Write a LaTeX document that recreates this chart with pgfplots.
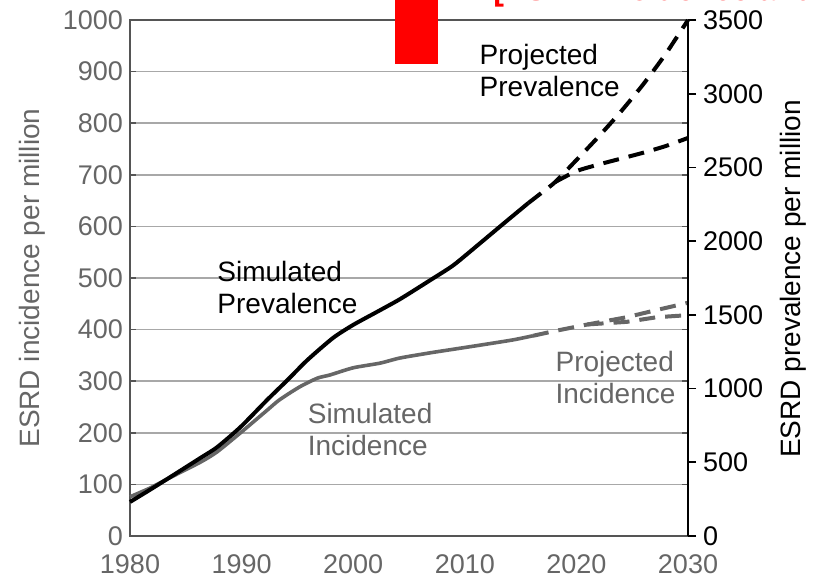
\documentclass[border=0pt]{standalone}
\usepackage{pgfplots}
\pgfplotsset{compat=1.18}
\usepackage{fontspec}
\setmainfont{Liberation Sans}
\definecolor{incgray}{HTML}{666666}
\definecolor{gridgray}{HTML}{A8A8A8}
\definecolor{axisgray}{HTML}{555555}
\begin{document}
\begin{tikzpicture}
\pgfplotsset{
  esrdbase/.style={
    scale only axis, width=279pt, height=258pt,
    xmin=1980, xmax=2030, clip=false,
    /pgf/number format/1000 sep={},
    /pgf/number format/assume math mode=true,
    ticklabel style={font=\fontsize{13.5}{16}\selectfont},
  },
}
% Incidence (left axis)
\begin{axis}[esrdbase,
  ymin=0, ymax=1000,
  axis line style={axisgray, line width=1pt},
  xtick={1980,1990,...,2030}, ytick={0,100,...,1000},
  x tick label style={incgray, yshift=-6pt},
  y tick label style={incgray},
  xtick style={draw=none},
  ytick style={axisgray, line width=0.8pt},
  tick align=inside, major tick length=3pt,
  ymajorgrids, grid style={gridgray, line width=0.8pt},
]
\addplot[incgray, line width=1.8pt, smooth, tension=0.4] coordinates {
  (1980,76) (1981.8,93) (1983.3,110) (1986.3,143) (1987.8,163) (1989.9,200)
  (1992.3,244) (1993.4,264) (1995.2,289) (1996.8,306) (1997.9,312)
  (2000,326) (2002.4,335) (2004.2,345) (2006.9,355) (2009,362)
  (2011.4,370) (2014.3,380) (2016.1,388)
};
\addplot[incgray, line width=2pt, dash pattern=on 8pt off 5pt] coordinates {
  (2016.1,388) (2018,397) (2021,410) (2024.5,424) (2027.2,438) (2030,452)
};
\addplot[incgray, line width=2pt, dash pattern=on 8pt off 5pt] coordinates {
  (2021,410) (2024.5,415) (2027.2,424) (2030,428)
};
\end{axis}
% Prevalence (right axis)
\begin{axis}[esrdbase,
  ymin=0, ymax=3500,
  axis y line*=right, axis x line=none,
  axis line style={black, line width=1pt},
  ytick={0,500,...,3500},
  y tick label style={black},
  ytick style={black, line width=0.8pt},
  tick align=outside, major tick length=4pt,
]
\addplot[black, line width=2pt, smooth, tension=0.4] coordinates {
  (1980,231) (1981.5,300) (1983.3,385) (1986.3,529) (1987.8,602) (1989.9,739)
  (1992.3,924) (1994.1,1057) (1995.9,1194) (1998.2,1344) (2000,1432)
  (2002.1,1519) (2004.2,1607) (2007,1740) (2009,1838) (2011.4,1988)
  (2013.5,2121) (2015.7,2259)
};
\addplot[black, line width=2pt, dash pattern=on 8pt off 5pt, smooth, tension=0.4] coordinates {
  (2015.7,2259) (2017,2335) (2018.1,2401) (2020,2550) (2022,2710)
  (2024,2880) (2026,3065) (2028,3270) (2030,3500)
};
\addplot[black, line width=2pt, dash pattern=on 8pt off 5pt, smooth, tension=0.4] coordinates {
  (2018.1,2401) (2020,2475) (2022,2520) (2024,2560) (2026,2600)
  (2028,2645) (2030,2700)
};
\begin{scope}[every node/.style={font=\fontsize{14}{16}\selectfont, align=left, anchor=base west, inner sep=0pt, yshift=-16pt}]
  \node[black] at (axis cs:2011.3,3195) {Projected\\Prevalence};
  \node[black] at (axis cs:1987.8,1729) {Simulated\\Prevalence};
  \node[incgray] at (axis cs:1995.9,760) {Simulated\\Incidence};
  \node[incgray] at (axis cs:2018.1,1113) {Projected\\Incidence};
\end{scope}
\end{axis}
% axis titles
\node[rotate=90, incgray, font=\fontsize{14}{16}\selectfont] at (-49pt,129pt) {ESRD incidence per million};
\node[rotate=90, black, font=\fontsize{14}{16}\selectfont] at (331.5pt,128.5pt) {ESRD prevalence per million};
% red overlay at the top
\fill[red] (132.5pt,236pt) rectangle (154pt,270pt);
\node[red, font=\bfseries\fontsize{16}{18}\selectfont, anchor=base west, inner sep=0pt] at (181.5pt,267.8pt) {[ESRD incidence and prevalence, 1980–2030]};
\pgfresetboundingbox
\path[use as bounding box] (-65pt,-22pt) rectangle (346pt,268pt);
\end{tikzpicture}
\end{document}
